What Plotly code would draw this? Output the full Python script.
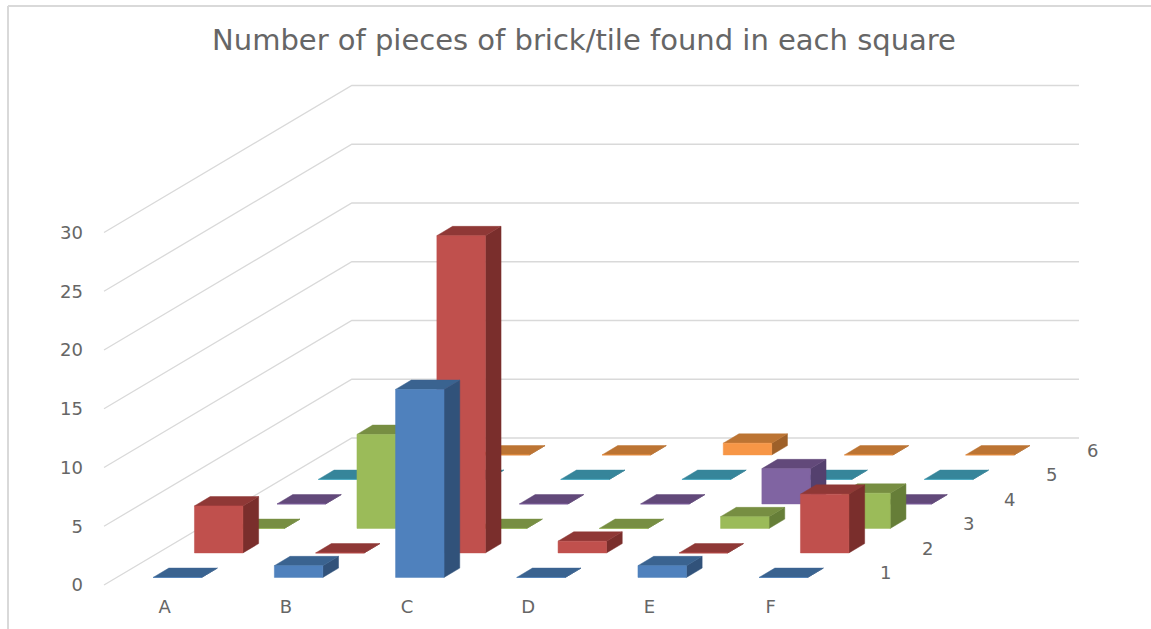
import plotly.graph_objects as go

# Survey counts per square: columns A-F along the front, rows 1-6 going back
columns = ["A", "B", "C", "D", "E", "F"]
rows = ["1", "2", "3", "4", "5", "6"]
row_1 = [0, 1, 16, 0, 1, 0]
row_2 = [4, 0, 27, 1, 0, 5]
row_3 = [0, 8, 0, 0, 1, 3]
row_4 = [0, 0, 0, 0, 3, 0]
row_5 = [0, 0, 0, 0, 0, 0]
row_6 = [0, 0, 0, 1, 0, 0]
value_ticks = [0, 5, 10, 15, 20, 25, 30]

counts = [row_1, row_2, row_3, row_4, row_5, row_6]

# Face colours per row: front, top, side
palette = [
    ("#4F81BD", "#3A6390", "#31527A"),
    ("#C0504D", "#8F3836", "#7A2E2C"),
    ("#9BBB59", "#778E42", "#667E38"),
    ("#8064A2", "#62497A", "#54406E"),
    ("#4BACC6", "#36859A", "#2F7488"),
    ("#F79646", "#BC7433", "#9E6029"),
]

TEXT_GREY = "#666666"
PX_PER_COLUMN = 121.2
PX_PER_COUNT = 11.75
WIDTH, HEIGHT = 1151, 629
MARGIN_L, MARGIN_T, MARGIN_B = 84, 60, 35
ORIGIN_PX = (104, 585)

# One step back along the depth axis, in (column, count) axis units
DEPTH_DX = 41.3 / PX_PER_COLUMN
DEPTH_DY = 24.5 / PX_PER_COUNT
BAR_W = 0.4
BAR_D = 0.38
GAP_W = (1 - BAR_W) / 2
GAP_D = (1 - BAR_D) / 2


def project(col, depth, value):
    """Oblique projection of (column, depth, count) onto the 2D axes."""
    return col + depth * DEPTH_DX, value + depth * DEPTH_DY


def polygon(points):
    xy = [project(*p) for p in points + points[:1]]
    return [p[0] for p in xy] + [None], [p[1] for p in xy] + [None]


def face_trace(xs, ys, colour, name):
    return go.Scatter(
        x=xs, y=ys, mode="lines", fill="toself", fillcolor=colour,
        line=dict(color=colour, width=0.5), name=name, hoverinfo="skip",
    )


fig = go.Figure()

# Walls: each count gridline runs along the left wall and then the back wall
n_cols, n_rows = len(columns), len(rows)
for v in value_ticks:
    pts = [project(0, 0, v), project(0, n_rows, v), project(n_cols, n_rows, v)]
    fig.add_trace(go.Scatter(
        x=[p[0] for p in pts], y=[p[1] for p in pts], mode="lines",
        line=dict(color="#D9D9D9", width=1.3), hoverinfo="skip",
    ))

# Painter's order: back row first so nearer bars cover it
for r in reversed(range(n_rows)):
    front_x, front_y, top_x, top_y, side_x, side_y = [], [], [], [], [], []
    d0, d1 = r + GAP_D, r + GAP_D + BAR_D
    for c, value in enumerate(counts[r]):
        c0, c1 = c + GAP_W, c + GAP_W + BAR_W
        x, y = polygon([(c0, d0, 0), (c1, d0, 0), (c1, d0, value), (c0, d0, value)])
        front_x += x
        front_y += y
        x, y = polygon([(c0, d0, value), (c1, d0, value), (c1, d1, value), (c0, d1, value)])
        top_x += x
        top_y += y
        x, y = polygon([(c1, d0, 0), (c1, d1, 0), (c1, d1, value), (c1, d0, value)])
        side_x += x
        side_y += y
    front, top, side = palette[r]
    fig.add_trace(face_trace(side_x, side_y, side, rows[r]))
    fig.add_trace(face_trace(top_x, top_y, top, rows[r]))
    fig.add_trace(face_trace(front_x, front_y, front, rows[r]))

# Row labels sit just past the right end of the floor
annotations = []
for r, label in enumerate(rows):
    ax, ay = project(n_cols, r + 0.5, 0)
    annotations.append(dict(
        x=ax, y=ay, xref="x", yref="y", text=label, showarrow=False, xshift=34,
        font=dict(family="DejaVu Sans", size=18, color=TEXT_GREY),
    ))

x_range = [(MARGIN_L - ORIGIN_PX[0]) / PX_PER_COLUMN, (WIDTH - ORIGIN_PX[0]) / PX_PER_COLUMN]
y_range = [(ORIGIN_PX[1] - (HEIGHT - MARGIN_B)) / PX_PER_COUNT, (ORIGIN_PX[1] - MARGIN_T) / PX_PER_COUNT]

fig.update_layout(
    width=WIDTH, height=HEIGHT, autosize=False,
    margin=dict(l=MARGIN_L, r=0, t=MARGIN_T, b=MARGIN_B),
    paper_bgcolor="white", plot_bgcolor="white", showlegend=False,
    title=dict(
        text="Number of pieces of brick/tile found in each square",
        x=584 / WIDTH, xanchor="center", y=1 - 40 / HEIGHT, yanchor="middle",
        font=dict(family="DejaVu Sans", size=29, color=TEXT_GREY),
    ),
    xaxis=dict(
        range=x_range, tickmode="array",
        tickvals=[i + 0.5 for i in range(n_cols)], ticktext=columns,
        showgrid=False, zeroline=False, showline=False, ticks="",
        tickfont=dict(family="DejaVu Sans", size=18, color=TEXT_GREY),
    ),
    yaxis=dict(
        range=y_range, tickmode="array", tickvals=value_ticks,
        showgrid=False, zeroline=False, showline=False, ticks="",
        tickfont=dict(family="DejaVu Sans", size=18, color=TEXT_GREY),
    ),
    annotations=annotations,
    shapes=[
        # Chart frame: top and left edges
        dict(type="line", xref="paper", yref="paper", layer="below",
             x0=(8 - MARGIN_L) / (WIDTH - MARGIN_L), x1=1,
             y0=1 + (MARGIN_T - 6) / (HEIGHT - MARGIN_T - MARGIN_B),
             y1=1 + (MARGIN_T - 6) / (HEIGHT - MARGIN_T - MARGIN_B),
             line=dict(color="#D9D9D9", width=2)),
        dict(type="line", xref="paper", yref="paper", layer="below",
             x0=(8 - MARGIN_L) / (WIDTH - MARGIN_L),
             x1=(8 - MARGIN_L) / (WIDTH - MARGIN_L),
             y0=-MARGIN_B / (HEIGHT - MARGIN_T - MARGIN_B),
             y1=1 + (MARGIN_T - 6) / (HEIGHT - MARGIN_T - MARGIN_B),
             line=dict(color="#D9D9D9", width=2)),
    ],
)

fig.write_html("out.html")
